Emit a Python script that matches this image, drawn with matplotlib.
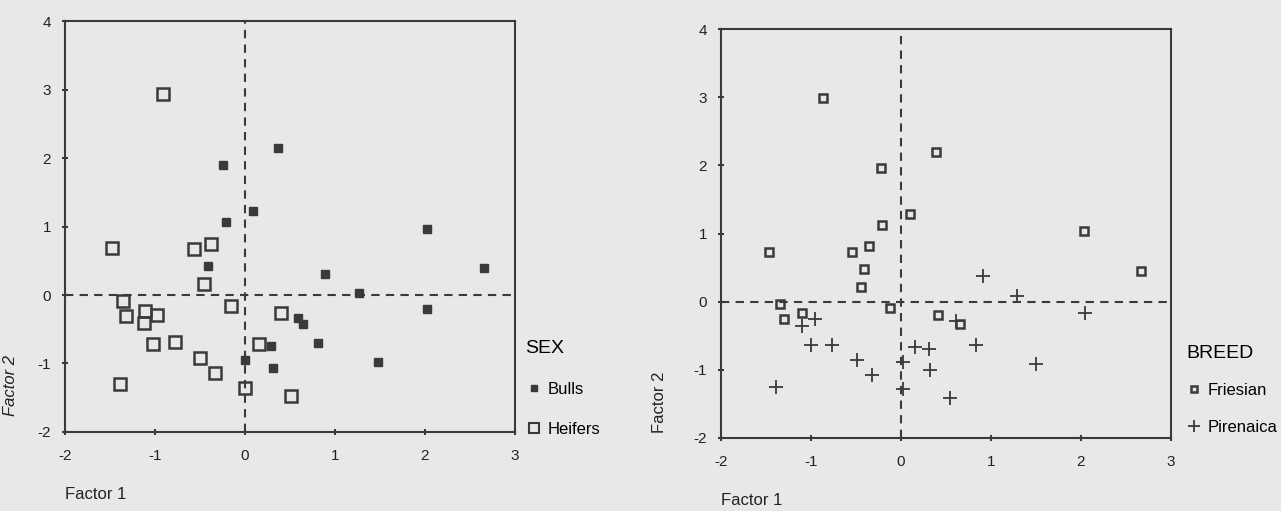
import numpy as np
import matplotlib
matplotlib.use("Agg")
import matplotlib.pyplot as plt

plt.rcParams['font.family'] = ['Liberation Sans', 'DejaVu Sans']
plt.rcParams['axes.unicode_minus'] = False

# left panel, grouped by sex
bulls_x = [-0.24, 0.37, 0.09, -0.21, -0.41, 0.89, 1.27, 0.59, 0.64, 0.81, 0.29,
           0.00, 0.31, 1.48, 2.02, 2.66, 2.02]
bulls_y = [1.90, 2.15, 1.23, 1.07, 0.42, 0.31, 0.03, -0.34, -0.42, -0.70, -0.74,
           -0.95, -1.06, -0.98, 0.96, 0.39, -0.21]
heif_x = [-0.91, -1.48, -0.57, -0.38, -0.46, -1.36, -1.32, -1.11, -0.98, -1.12,
          -0.15, 0.40, -1.02, -0.78, -0.50, -0.33, 0.16, -1.39, 0.00, 0.51]
heif_y = [2.93, 0.69, 0.67, 0.74, 0.16, -0.09, -0.31, -0.23, -0.29, -0.41,
          -0.16, -0.26, -0.72, -0.69, -0.92, -1.14, -0.72, -1.30, -1.36, -1.48]

# right panel, grouped by breed
fries_x = [-0.87, 0.39, -0.22, 0.10, -0.21, -1.47, -0.54, -0.36, -0.41, -0.44,
           -1.34, -1.30, -1.10, -0.12, 0.41, 0.66, 2.67, 2.03]
fries_y = [2.99, 2.20, 1.96, 1.29, 1.13, 0.73, 0.73, 0.81, 0.48, 0.22,
           -0.03, -0.25, -0.16, -0.10, -0.19, -0.33, 0.45, 1.03]
piren_x = [-0.96, -1.10, -1.00, -0.77, -0.49, -0.32, -1.39, 0.02, 0.02, 0.16,
           0.31, 0.32, 0.54, 0.61, 0.83, 0.91, 1.29, 2.04, 1.50]
piren_y = [-0.25, -0.35, -0.64, -0.63, -0.86, -1.07, -1.25, -0.88, -1.28, -0.66,
           -0.69, -1.00, -1.41, -0.28, -0.63, 0.37, 0.09, -0.16, -0.91]

bg = '#e8e8e6'
ink = '#3a3a3a'
txt = '#222222'

fig = plt.figure(figsize=(12.81, 5.11), dpi=100, facecolor=bg)
ax1 = fig.add_axes([0.0507, 0.1546, 0.3513, 0.8043])
ax2 = fig.add_axes([0.5628, 0.1429, 0.3513, 0.8003])

for ax in (ax1, ax2):
    ax.set_facecolor(bg)
    ax.set_xlim(-2, 3)
    ax.set_ylim(-2, 4)
    ax.set_xticks([-2, -1, 0, 1, 2, 3])
    ax.set_yticks([-2, -1, 0, 1, 2, 3, 4])
    ax.axhline(0, color=ink, lw=1.5, ls=(0, (4, 3)), zorder=1)
    ax.axvline(0, color=ink, lw=1.5, ls=(0, (4, 3)), zorder=1)
    for s in ax.spines.values():
        s.set_color(ink)
        s.set_linewidth(1.5)
    ax.tick_params(direction='inout', length=4, width=1.5, color=ink,
                   labelsize=11, labelcolor=txt)
    ax.tick_params(axis='x', pad=10)
    ax.tick_params(axis='y', pad=8)

ax1.plot(bulls_x, bulls_y, 's', ms=5.5, color=ink, mec=ink, label='Bulls', zorder=3)
ax1.plot(heif_x, heif_y, 's', ms=9, mfc='none', mec=ink, mew=1.8,
         label='Heifers', zorder=3)
ax1.set_xlabel('Factor 1', fontsize=12, color=txt, ha='left')
ax1.xaxis.set_label_coords(0.0, -0.135)
ax1.set_ylabel('Factor 2', fontsize=12, color=txt, style='italic')
ax1.yaxis.set_label_coords(-0.104, 0.114)
leg1 = ax1.legend(title='SEX', loc='upper left', bbox_to_anchor=(0.99, 0.26),
                  frameon=False, fontsize=12, title_fontsize=14,
                  handletextpad=0.3, labelspacing=1.5, handlelength=1.0)
leg1._legend_box.align = 'left'
leg1.legend_handles[0].set_markersize(5)
leg1.legend_handles[1].set_markersize(6.5)
leg1.legend_handles[1].set_markeredgewidth(1.5)

ax2.plot(fries_x, fries_y, 's', ms=6, mfc='none', mec=ink, mew=1.8,
         label='Friesian', zorder=3)
ax2.plot(piren_x, piren_y, '+', ms=10, color=ink, mew=1.3,
         label='Pirenaica', zorder=3)
ax2.set_xlabel('Factor 1', fontsize=12, color=txt, ha='left')
ax2.xaxis.set_label_coords(0.0, -0.134)
ax2.set_ylabel('Factor 2', fontsize=12, color=txt)
ax2.yaxis.set_label_coords(-0.12, 0.088)
leg2 = ax2.legend(title='BREED', loc='upper left', bbox_to_anchor=(1.0, 0.265),
                  frameon=False, fontsize=12, title_fontsize=14,
                  handletextpad=0.3, labelspacing=1.3, handlelength=1.0)
leg2._legend_box.align = 'left'
leg2.legend_handles[0].set_markersize(5)
leg2.legend_handles[1].set_markersize(8)

fig.savefig('out.png', dpi=100, facecolor=bg)
